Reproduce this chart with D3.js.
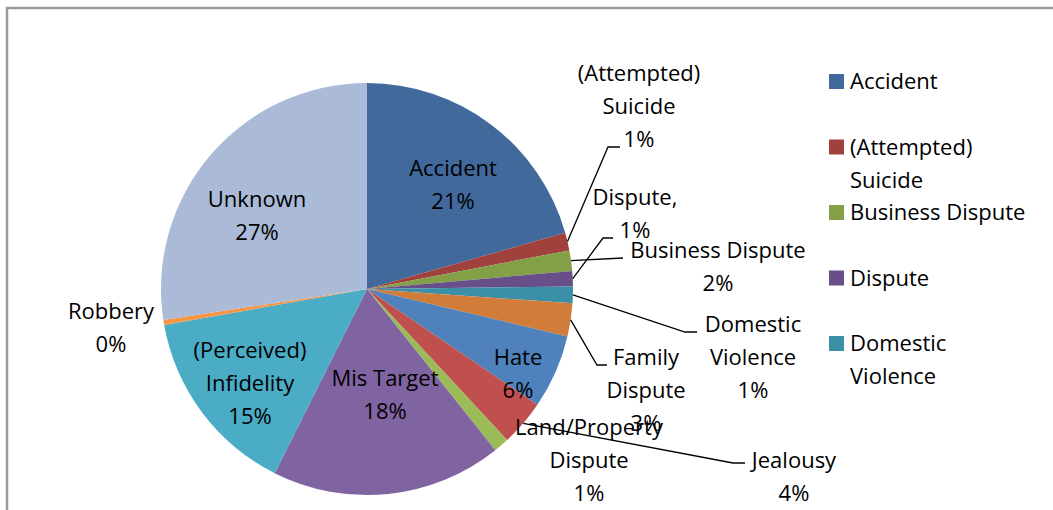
<!DOCTYPE html>
<html>
<head>
<meta charset="utf-8">
<script src="https://cdn.jsdelivr.net/npm/d3@7"></script>
<style>
  body { margin: 0; background: #fff; }
  text { font-family: "Open Sans", "Noto Sans", sans-serif; font-size: 22px; fill: #000; }
</style>
</head>
<body>
<svg id="chart" width="1053" height="510"></svg>
<script>
// categories, clockwise from 12 o'clock
var categories = ["Accident", "(Attempted) Suicide", "Business Dispute", "Dispute", "Domestic Violence",
  "Family Dispute", "Hate", "Jealousy", "Land/Property Dispute", "Mis Target",
  "(Perceived) Infidelity", "Robbery", "Unknown"];
// share of cases (%)
var values = [20.6, 1.4, 1.6, 1.2, 1.3, 2.6, 5.8, 3.6, 1.2, 18.1, 14.8, 0.4, 27.4];
var colors = ["#41699c", "#a1413e", "#83a047", "#694f89", "#3b8fa6", "#d27c39",
  "#4f81bd", "#c0504d", "#9bbb59", "#8064a2", "#4bacc6", "#f79646", "#aabad7"];
// how each data label is broken into lines (percent goes on the last line)
var labelLines = {
  "Accident": ["Accident"],
  "(Attempted) Suicide": ["(Attempted)", "Suicide"],
  "Business Dispute": ["Business Dispute"],
  "Dispute": ["Dispute,"],
  "Domestic Violence": ["Domestic", "Violence"],
  "Family Dispute": ["Family", "Dispute"],
  "Hate": ["Hate"],
  "Jealousy": ["Jealousy"],
  "Land/Property Dispute": ["Land/Property", "Dispute"],
  "Mis Target": ["Mis Target"],
  "(Perceived) Infidelity": ["(Perceived)", "Infidelity"],
  "Robbery": ["Robbery"],
  "Unknown": ["Unknown"]
};

// label placement (first baseline) and leader elbows, as Excel left them
var labelPos = {
  "Accident": {x: 453, y: 176},
  "(Attempted) Suicide": {x: 639, y: 81, leader: [[608, 147], [620, 147]]},
  "Business Dispute": {x: 718, y: 258, leader: [[623, 258]]},
  "Dispute": {x: 635, y: 205, leader: [[603, 238], [613, 238]]},
  "Domestic Violence": {x: 753, y: 332, leader: [[685, 332], [697, 332]]},
  "Family Dispute": {x: 646, y: 365, leader: [[597, 365], [607, 365]]},
  "Hate": {x: 518, y: 365},
  "Jealousy": {x: 794, y: 468, leader: [[733, 463], [745, 463]]},
  "Land/Property Dispute": {x: 589, y: 435},
  "Mis Target": {x: 385, y: 386},
  "(Perceived) Infidelity": {x: 250, y: 358},
  "Robbery": {x: 111, y: 319},
  "Unknown": {x: 257, y: 207}
};

var svg = d3.select("#chart");
var cx = 367, cy = 289, radius = 206, lineH = 33;

// frame (only left and top edges are inside the picture)
svg.append("path")
    .attr("d", "M7,510V8H1053")
    .attr("fill", "none")
    .attr("stroke", "#9a9a9a")
    .attr("stroke-width", 2.5);

var data = categories.map(function(c, i) { return {name: c, value: values[i], color: colors[i]}; });
var total = d3.sum(values);
var pct = d3.format(".0%");

var pie = d3.pie().sort(null).value(function(d) { return d.value; });
var arc = d3.arc().innerRadius(0).outerRadius(radius);
var arcs = pie(data);

var g = svg.append("g").attr("transform", "translate(" + cx + "," + cy + ")");

g.selectAll("path.slice")
    .data(arcs)
  .enter().append("path")
    .attr("class", "slice")
    .attr("d", arc)
    .attr("fill", function(d) { return d.data.color; });

// leader lines: from the slice rim at its mid angle to the label elbow
var edgeArc = d3.arc().innerRadius(radius).outerRadius(radius);
arcs.forEach(function(d) {
  var p = labelPos[d.data.name];
  if (!p.leader) return;
  var c = edgeArc.centroid(d);
  var pts = [[cx + c[0], cy + c[1]]].concat(p.leader);
  svg.append("path")
      .attr("d", d3.line()(pts))
      .attr("fill", "none")
      .attr("stroke", "#000")
      .attr("stroke-width", 1.3);
});

// data labels
arcs.forEach(function(d) {
  var p = labelPos[d.data.name];
  var lines = labelLines[d.data.name].concat([pct(d.data.value / total)]);
  var t = svg.append("text").attr("text-anchor", "middle");
  lines.forEach(function(l, i) {
    t.append("tspan").attr("x", p.x).attr("y", p.y + i * lineH).text(l);
  });
});

// legend (only the first entries fit in the visible area)
var legX = 829, legY = 74, legStep = 65.5, sw = 15, maxW = 180;
var leg = svg.append("g");
data.slice(0, 5).forEach(function(d, i) {
  var top = legY + i * legStep;
  leg.append("rect")
      .attr("x", legX).attr("y", top)
      .attr("width", sw).attr("height", sw)
      .attr("fill", d.color);
  var t = leg.append("text").attr("x", legX + 21).attr("y", top + sw);
  var t0 = t.append("tspan").attr("x", legX + 21).attr("y", top + sw).text(d.name);
  if (t0.node().getComputedTextLength() > maxW) {
    var words = d.name.split(" ");
    t0.text(words[0]);
    t.append("tspan").attr("x", legX + 21).attr("y", top + sw + lineH).text(words.slice(1).join(" "));
  }
});
</script>
</body>
</html>
